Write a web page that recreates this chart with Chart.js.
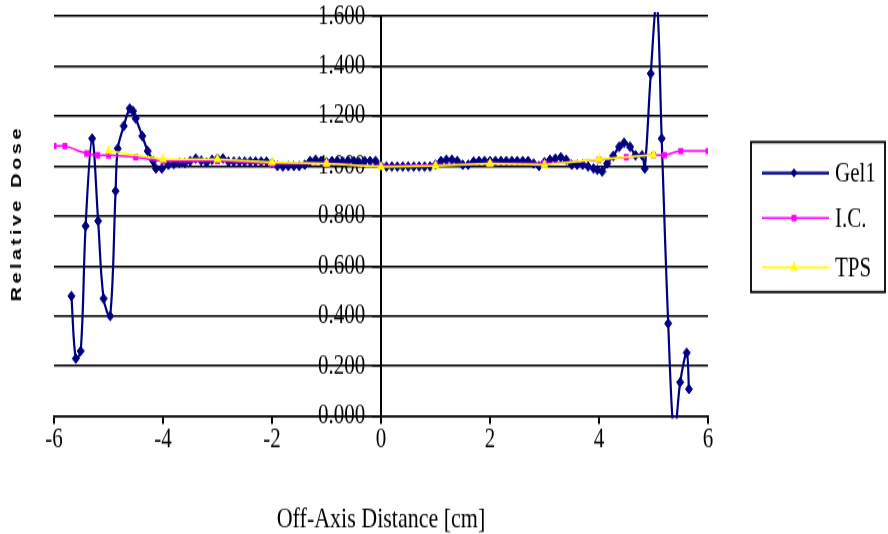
<!DOCTYPE html>
<html>
<head>
<meta charset="utf-8">
<title>Relative Dose</title>
<script src="https://cdn.jsdelivr.net/npm/chart.js@4.4.1/dist/chart.umd.min.js"></script>
<style>
  html, body { margin: 0; padding: 0; background: #fff; }
  #wrap { width: 888px; height: 534px; overflow: hidden; }
  /* the original picture is stretched vertically, so the canvas is too */
  #myChart { transform: scaleY(1.335); transform-origin: 0 0; }
</style>
</head>
<body>
<div id="wrap"><canvas id="myChart" width="888" height="400" style="width:888px;height:400px"></canvas></div>
<script>
var gelX = [-5.68, -5.60, -5.51, -5.42, -5.30, -5.19, -5.09, -4.97, -4.87, -4.83,
  -4.72, -4.61, -4.55, -4.50, -4.38, -4.28, -4.18, -4.13, -4.02,
  -3.9, -3.8, -3.7, -3.6, -3.5, -3.4, -3.3, -3.2, -3.1, -3.0,
  -2.9, -2.8, -2.7, -2.6, -2.5, -2.4, -2.3, -2.2, -2.1, -2.0,
  -1.9, -1.8, -1.7, -1.6, -1.5, -1.4, -1.3, -1.2, -1.1, -1.0,
  -0.9, -0.8, -0.7, -0.6, -0.5, -0.4, -0.3, -0.2, -0.1, 0.0,
  0.1, 0.2, 0.3, 0.4, 0.5, 0.6, 0.7, 0.8, 0.9, 1.0,
  1.1, 1.2, 1.3, 1.4, 1.5, 1.6, 1.7, 1.8, 1.9, 2.0,
  2.1, 2.2, 2.3, 2.4, 2.5, 2.6, 2.7, 2.8, 2.9, 3.0,
  3.1, 3.2, 3.3, 3.4, 3.5, 3.6, 3.7, 3.8, 3.9, 3.97,
  4.06, 4.15, 4.26, 4.37, 4.46, 4.57, 4.67, 4.79, 4.84, 4.95,
  5.06, 5.15, 5.27, 5.38, 5.49, 5.61, 5.65];
var gelY = [0.48, 0.23, 0.26, 0.76, 1.11, 0.78, 0.47, 0.40, 0.90, 1.07,
  1.16, 1.23, 1.22, 1.19, 1.12, 1.06, 1.02, 0.99, 0.99,
  1.005, 1.008, 1.012, 1.012, 1.02, 1.03, 1.022, 1.015, 1.025, 1.03,
  1.03, 1.018, 1.018, 1.018, 1.018, 1.018, 1.018, 1.018, 1.018, 1.012,
  1.0, 0.998, 1.0, 1.0, 1.0, 1.005, 1.02, 1.025, 1.02, 1.015,
  1.02, 1.02, 1.018, 1.02, 1.02, 1.015, 1.02, 1.02, 1.02, 1.0,
  0.998, 0.998, 0.998, 0.998, 0.998, 0.998, 0.998, 0.998, 0.998, 1.005,
  1.02, 1.025, 1.025, 1.02, 1.005, 1.005, 1.018, 1.02, 1.02, 1.02,
  1.02, 1.02, 1.02, 1.02, 1.02, 1.02, 1.02, 1.01, 1.0, 1.015,
  1.025, 1.03, 1.035, 1.025, 1.005, 1.005, 1.005, 0.998, 0.99, 0.985,
  0.978, 1.01, 1.04, 1.077, 1.093, 1.077, 1.043, 1.043, 0.99, 1.37,
  1.66, 1.11, 0.37, -0.08, 0.135, 0.253, 0.108];

var icX = [-6, -5.8, -5.4, -5.2, -5, -4.5, -4, -3, -2, -1, 0, 1, 2, 3, 4, 4.5, 5, 5.2, 5.5, 6];
var icY = [1.08, 1.08, 1.05, 1.043, 1.043, 1.035, 1.02, 1.02, 1.01, 1.01, 1.0, 1.005, 1.01, 1.01, 1.025, 1.035, 1.044, 1.044, 1.06, 1.06];

var tpsX = [-5, -4, -3, -2, -1, 0, 1, 2, 3, 4, 5];
var tpsY = [1.06, 1.027, 1.027, 1.015, 1.01, 0.997, 1.0, 1.01, 1.005, 1.027, 1.045];

var xTicks = [-6, -4, -2, 0, 2, 4, 6];
var seriesNames = ['Gel1', 'I.C.', 'TPS'];
var seriesColors = ['#000080', '#FF00FF', '#FFFF00'];

var sy = 1.335;
var serif = '"Liberation Serif", "Times New Roman", serif';

function toPoints(xs, ys) {
  var pts = [];
  for (var i = 0; i < xs.length; i++) pts.push({x: xs[i], y: ys[i]});
  return pts;
}

function markerRadius(r) {
  return function(ctx) {
    var p = ctx.raw;
    if (!p || p.y > 1.6 || p.y < 0) return 0;
    return r;
  };
}

// legend with a frame, and the rotated y title
var extras = {
  id: 'extras',
  afterDraw: function(chart) {
    var ctx = chart.ctx;
    ctx.save();

    var bx = 751, by = 142 / sy, bw = 134, bh = 150 / sy;
    ctx.strokeStyle = '#000';
    ctx.lineWidth = 1.8;
    ctx.strokeRect(bx, by, bw, bh);

    var rows = [173 / sy, 218 / sy, 267.5 / sy];
    var shapes = ['diamond', 'square', 'triangle'];
    ctx.font = '21px ' + serif;
    ctx.textBaseline = 'middle';
    ctx.textAlign = 'left';
    for (var i = 0; i < 3; i++) {
      var y = rows[i];
      ctx.strokeStyle = seriesColors[i];
      ctx.fillStyle = seriesColors[i];
      ctx.lineWidth = i === 0 ? 2.2 : 1.5;
      ctx.beginPath();
      ctx.moveTo(762, y);
      ctx.lineTo(829, y);
      ctx.stroke();
      var mx = 794;
      ctx.beginPath();
      if (shapes[i] === 'diamond') {
        ctx.moveTo(mx, y - 3.5); ctx.lineTo(mx + 3.5, y); ctx.lineTo(mx, y + 3.5); ctx.lineTo(mx - 3.5, y);
      } else if (shapes[i] === 'square') {
        ctx.rect(mx - 2.5, y - 2.5, 5, 5);
      } else {
        ctx.moveTo(mx, y - 4.5); ctx.lineTo(mx + 3.9, y + 2.25); ctx.lineTo(mx - 3.9, y + 2.25);
      }
      ctx.closePath();
      ctx.fill();
      ctx.fillStyle = '#000';
      ctx.fillText(seriesNames[i], 835, y + 1);
    }

    // y title, letter spaced
    var title = 'Relative Dose';
    ctx.font = 'bold 15px "Liberation Sans", Arial, sans-serif';
    ctx.fillStyle = '#000';
    var gap = 2.6, total = 0, k;
    for (k = 0; k < title.length; k++) total += ctx.measureText(title[k]).width + (k ? gap : 0);
    ctx.translate(17, 161);
    ctx.rotate(-Math.PI / 2);
    ctx.textAlign = 'left';
    ctx.textBaseline = 'middle';
    var cx = -total / 2;
    for (k = 0; k < title.length; k++) {
      ctx.fillText(title[k], cx, 0);
      cx += ctx.measureText(title[k]).width + gap;
    }
    ctx.restore();
  }
};

var canvas = document.getElementById('myChart');
var ctx = canvas.getContext('2d');

var myChart = new Chart(ctx, {
  type: 'scatter',
  data: {
    datasets: [{
      label: seriesNames[0],
      data: toPoints(gelX, gelY),
      showLine: true,
      borderColor: seriesColors[0],
      backgroundColor: seriesColors[0],
      borderWidth: 2.2,
      tension: 0.35,
      pointStyle: 'rectRot',
      pointRadius: markerRadius(3.6),
      pointBorderWidth: 1,
      clip: {left: 0, top: 3, right: 0, bottom: 2},
      order: 3
    }, {
      label: seriesNames[1],
      data: toPoints(icX, icY),
      showLine: true,
      borderColor: seriesColors[1],
      backgroundColor: seriesColors[1],
      borderWidth: 1.5,
      tension: 0.3,
      pointStyle: 'rect',
      pointRadius: 3.5,
      pointBorderWidth: 0,
      order: 2
    }, {
      label: seriesNames[2],
      data: toPoints(tpsX, tpsY),
      showLine: true,
      borderColor: seriesColors[2],
      backgroundColor: seriesColors[2],
      borderWidth: 1.5,
      tension: 0,
      pointStyle: 'triangle',
      pointRadius: 4.5,
      pointBorderWidth: 0,
      order: 1
    }]
  },
  options: {
    responsive: false,
    animation: false,
    events: [],
    layout: {
      padding: {left: 54, right: 180, top: 12, bottom: 0}
    },
    plugins: {
      legend: {display: false},
      tooltip: {enabled: false}
    },
    scales: {
      x: {
        type: 'linear',
        position: 'bottom',
        min: -6,
        max: 6,
        afterBuildTicks: function(scale) {
          scale.ticks = xTicks.map(function(v) { return {value: v}; });
        },
        afterFit: function(scale) { scale.height = 400 - 416 / sy; },
        grid: {
          drawOnChartArea: false,
          drawTicks: true,
          tickLength: 6,
          color: '#000',
          lineWidth: 2
        },
        border: {display: true, color: '#000', width: 1.5},
        ticks: {
          color: '#000',
          padding: 1,
          font: {family: serif, size: 21, lineHeight: 1}
        },
        title: {
          display: true,
          text: 'Off-Axis Distance [cm]',
          color: '#000',
          padding: {top: 0, bottom: 0},
          font: {family: serif, size: 22, lineHeight: 1}
        }
      },
      y: {
        type: 'linear',
        position: {x: 0},
        min: 0,
        max: 1.6,
        ticks: {
          stepSize: 0.2,
          color: '#000',
          padding: 0,
          font: {family: serif, size: 21, lineHeight: 1},
          // labels sit left of the centred axis, past the tick marks
          callback: function(v) { return v.toFixed(3) + '   '; }
        },
        grid: {
          color: '#000',
          lineWidth: 1.5,
          drawTicks: true,
          tickLength: 8
        },
        border: {display: true, color: '#000', width: 2}
      }
    }
  },
  plugins: [extras]
});
</script>
</body>
</html>
